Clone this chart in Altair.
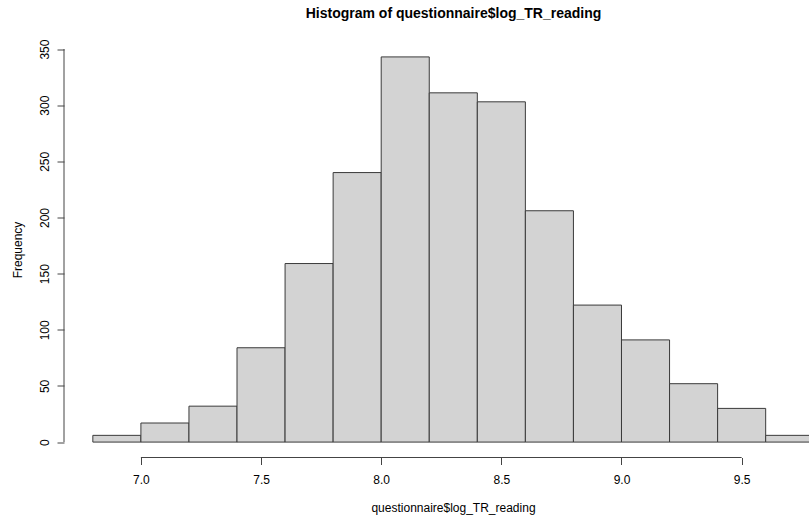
import altair as alt
import pandas as pd

# Histogram bins (break points every 0.2) and the count in each bin
breaks = [6.8, 7.0, 7.2, 7.4, 7.6, 7.8, 8.0, 8.2, 8.4, 8.6, 8.8, 9.0, 9.2, 9.4, 9.6, 9.8]
counts = [6, 17, 32, 84, 159, 240, 343, 311, 303, 206, 122, 91, 52, 30, 6]

x_ticks = [7.0, 7.5, 8.0, 8.5, 9.0, 9.5]
y_ticks = [0, 50, 100, 150, 200, 250, 300, 350]

bins = pd.DataFrame({
    "start": breaks[:-1],
    "end": breaks[1:],
    "count": counts,
})

FONT = "Liberation Sans"
W, H = 745, 416

x_scale = alt.Scale(domain=[6.68, 9.7803], nice=False, zero=False)
y_scale = alt.Scale(domain=[-13.72, 356.72], nice=False, zero=False)

x_axis = alt.Axis(
    values=x_ticks, format=".1f", domain=False, grid=False,
    tickSize=7, tickColor="#444", tickWidth=1,
    labelFont=FONT, labelFontSize=12, labelColor="#000", labelPadding=10,
    title="questionnaire$log_TR_reading", titleFont=FONT, titleFontSize=12,
    titleFontWeight="normal", titleColor="#000",
    titleX=389, titleY=54, titleBaseline="alphabetic", titleAlign="center",
)
y_axis = alt.Axis(
    values=y_ticks, format="d", domain=False, grid=False,
    tickSize=7, tickColor="#444", tickWidth=1,
    labelFont=FONT, labelFontSize=12, labelColor="#000", labelPadding=6,
    labelAngle=270, labelAlign="center", labelBaseline="bottom",
    title="Frequency", titleFont=FONT, titleFontSize=12,
    titleFontWeight="normal", titleColor="#000",
    titleAngle=270, titleX=-47, titleY=208,
    titleAlign="center", titleBaseline="middle",
)

bars = alt.Chart(bins).mark_rect(
    fill="#D3D3D3", stroke="#3a3a3a", strokeWidth=1, clip=True
).encode(
    x=alt.X("start:Q", scale=x_scale, axis=x_axis),
    x2="end:Q",
    y=alt.Y("count:Q", scale=y_scale, axis=y_axis),
    y2=alt.datum(0),
)

# Axis lines spanning only the labelled tick range
x_line = alt.Chart(pd.DataFrame({"a": [x_ticks[0]], "b": [x_ticks[-1]]})).mark_rule(
    color="#444", strokeWidth=1
).encode(
    x=alt.X("a:Q", scale=x_scale), x2="b:Q", y=alt.value(H)
)
y_line = alt.Chart(pd.DataFrame({"a": [y_ticks[0]], "b": [y_ticks[-1]]})).mark_rule(
    color="#444", strokeWidth=1
).encode(
    y=alt.Y("a:Q", scale=y_scale), y2="b:Q", x=alt.value(0)
)

chart = alt.layer(bars, x_line, y_line).properties(
    width=W,
    height=H,
    background="white",
    title=alt.TitleParams(
        "Histogram of questionnaire$log_TR_reading",
        font=FONT, fontSize=14, fontWeight="bold", color="#000",
        anchor="middle", dx=17, offset=7.5, baseline="alphabetic",
    ),
    autosize=alt.AutoSizeParams(type="none"),
    padding={"left": 64, "top": 41.5, "right": 0, "bottom": 57.5},
).configure_view(stroke=None)

chart.save("out.html", embed_options={"renderer": "svg", "actions": False})
